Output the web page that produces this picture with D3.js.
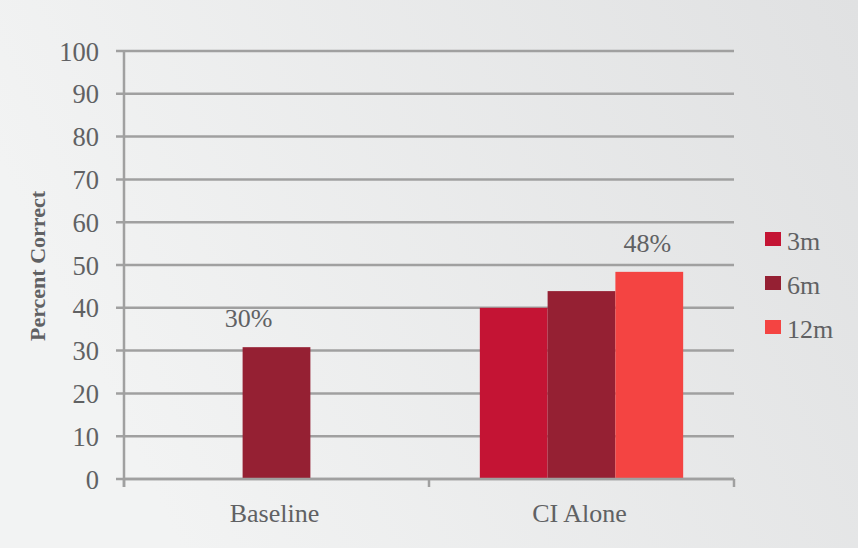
<!DOCTYPE html>
<html><head><meta charset="utf-8">
<script src="https://cdn.jsdelivr.net/npm/d3@7"></script>
<style>body{margin:0;}svg{display:block;}</style>
</head><body>
<script>
const categories = ["Baseline", "CI Alone"];
const seriesNames = ["3m", "6m", "12m"];
const values3m = [null, 40.0];
const values6m = [30.8, 43.9];
const values12m = [null, 48.4];
const valueLabels = [{cat: "Baseline", series: "6m", text: "30%"}, {cat: "CI Alone", series: "12m", text: "48%"}];
const yTicks = [0, 10, 20, 30, 40, 50, 60, 70, 80, 90, 100];
const colors = ["#C41434", "#952033", "#F44442"];

(function () {
const W = 858, H = 548;
const svg = d3.select("body").append("svg").attr("width", W).attr("height", H);
const defs = svg.append("defs");
const grad = defs.append("linearGradient").attr("id", "bg").attr("x1", "0").attr("y1", "0.3").attr("x2", "1").attr("y2", "0");
grad.append("stop").attr("offset", "0").attr("stop-color", "#f2f3f3");
grad.append("stop").attr("offset", "1").attr("stop-color", "#e0e1e2");
svg.append("rect").attr("width", W).attr("height", H).attr("fill", "url(#bg)");

const pL = 124, pR = 734, pT = 51, pB = 479;
const x = d3.scaleBand().domain(categories).range([pL, pR]);
const xs = d3.scaleBand().domain(seriesNames).range([0, x.bandwidth()]).paddingOuter(0.75).paddingInner(0);
const y = d3.scaleLinear().domain([0, 100]).range([pB, pT]);

const font = "Liberation Serif";
const txt = "#606163";
const gridC = "#a0a0a0";

svg.append("g").selectAll("line").data(yTicks).join("line")
  .attr("x1", pL - 8).attr("x2", pR)
  .attr("y1", d => y(d)).attr("y2", d => y(d))
  .attr("stroke", gridC).attr("stroke-width", 2.5);

svg.append("g").selectAll("text").data(yTicks).join("text")
  .attr("x", 99).attr("y", d => y(d)).attr("dy", "0.36em")
  .attr("text-anchor", "end").attr("font-family", font).attr("font-size", 26.5)
  .attr("fill", txt).text(d => d);

const data = [];
categories.forEach((c, i) => {
  [values3m, values6m, values12m].forEach((arr, j) => {
    if (arr[i] != null) data.push({cat: c, series: seriesNames[j], v: arr[i], color: colors[j]});
  });
});
svg.append("g").selectAll("rect").data(data).join("rect")
  .attr("x", d => x(d.cat) + xs(d.series))
  .attr("width", xs.bandwidth())
  .attr("y", d => y(d.v))
  .attr("height", d => y(0) - y(d.v))
  .attr("fill", d => d.color);

svg.append("line").attr("x1", pL).attr("x2", pL).attr("y1", pT).attr("y2", pB + 8)
  .attr("stroke", gridC).attr("stroke-width", 2.5);
svg.append("line").attr("x1", pL).attr("x2", pR).attr("y1", pB).attr("y2", pB)
  .attr("stroke", gridC).attr("stroke-width", 2.5);
const bounds = [pL].concat(categories.map(c => x(c) + x.bandwidth()));
svg.append("g").selectAll("line").data(bounds).join("line")
  .attr("x1", d => d).attr("x2", d => d).attr("y1", pB).attr("y2", pB + 8)
  .attr("stroke", gridC).attr("stroke-width", 2.5);

svg.append("g").selectAll("text").data(categories).join("text")
  .attr("x", d => x(d) + x.bandwidth() / 2 - 2).attr("y", 522)
  .attr("text-anchor", "middle").attr("font-family", font).attr("font-size", 26)
  .attr("fill", txt).text(d => d);

const labelDx = {"Baseline": -28, "CI Alone": -2};
svg.append("g").selectAll("text").data(valueLabels).join("text")
  .attr("x", d => x(d.cat) + xs(d.series) + xs.bandwidth() / 2 + labelDx[d.cat])
  .attr("y", d => {
    const i = categories.indexOf(d.cat);
    const arr = d.series === "6m" ? values6m : d.series === "3m" ? values3m : values12m;
    return y(arr[i]) - 20;
  })
  .attr("text-anchor", "middle").attr("font-family", font).attr("font-size", 26)
  .attr("fill", txt).text(d => d.text);

svg.append("text").attr("transform", "translate(45,266) rotate(-90)")
  .attr("text-anchor", "middle").attr("font-family", font).attr("font-size", 22)
  .attr("font-weight", "bold").attr("fill", txt).text("Percent Correct");

const lg = svg.append("g").selectAll("g").data(seriesNames).join("g")
  .attr("transform", (d, i) => `translate(765,${232 + i * 44})`);
lg.append("rect").attr("width", 16).attr("height", 14).attr("fill", (d, i) => colors[i]);
lg.append("text").attr("x", 22).attr("y", 18).attr("font-family", font).attr("font-size", 26)
  .attr("fill", txt).text(d => d);
})();
</script>
</body></html>
